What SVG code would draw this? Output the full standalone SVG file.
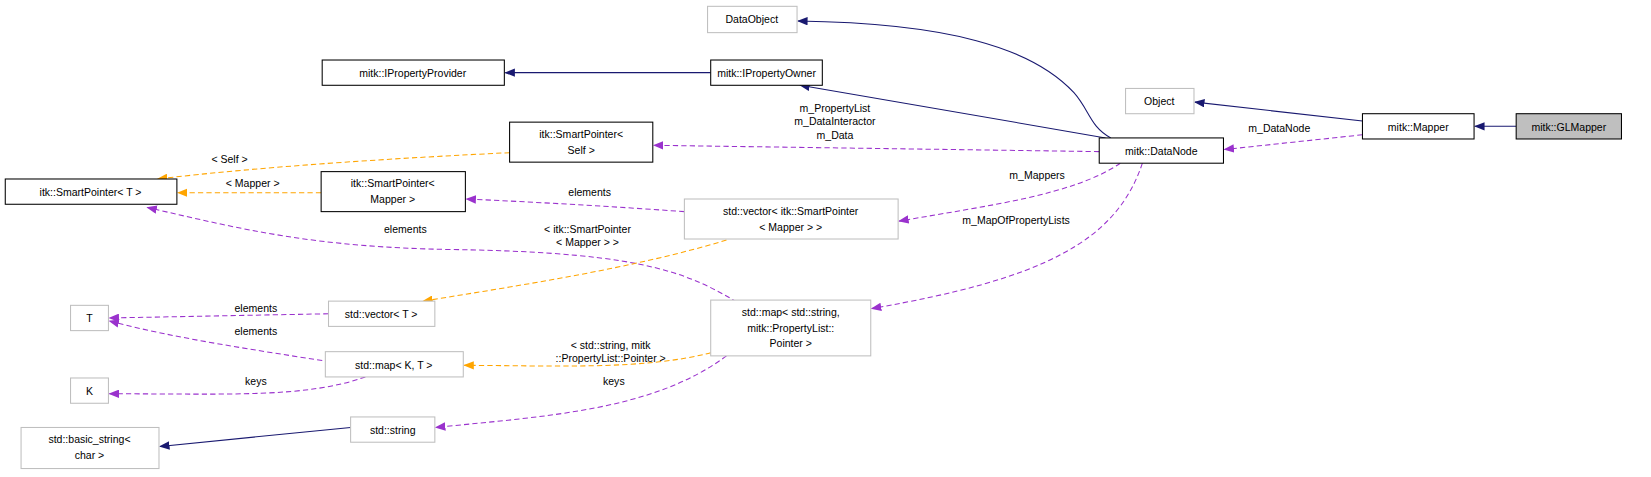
<svg xmlns="http://www.w3.org/2000/svg" width="1651" height="477" viewBox="0 0 1651 477">
<style>
text{font-family:"Liberation Sans","DejaVu Sans",sans-serif;font-size:10px;fill:#000}
.n rect{fill:#fff;stroke:#000;stroke-width:1}
.g rect{fill:#fff;stroke:#bfbfbf;stroke-width:1}
.c{fill:none;stroke-width:1}
.nv{stroke:#191970}
.pu{stroke:#9a32cd;stroke-dasharray:5,3}
.or{stroke:#ffa500;stroke-dasharray:5,3}
</style>
<defs>
<marker id="an" markerWidth="10" markerHeight="8" refX="9" refY="4" orient="auto" markerUnits="userSpaceOnUse"><path d="M0,0L10,4L0,8z" fill="#191970"/></marker>
<marker id="ap" markerWidth="10" markerHeight="8" refX="9" refY="4" orient="auto" markerUnits="userSpaceOnUse"><path d="M0,0L10,4L0,8z" fill="#9a32cd"/></marker>
<marker id="ao" markerWidth="10" markerHeight="8" refX="9" refY="4" orient="auto" markerUnits="userSpaceOnUse"><path d="M0,0L10,4L0,8z" fill="#ffa500"/></marker>
</defs>
<g transform="scale(1.0529)">
<g id="connectors" text-anchor="middle">
<path class="c nv" d="M1440,120L1401,120" marker-end="url(#an)"/>
<path class="c nv" d="M1294,115L1135,97" marker-end="url(#an)"/>
<path class="c pu" d="M1294,128L1163,142" marker-end="url(#ap)"/>
<text x="1215" y="125">m_DataNode</text>
<path class="c nv" d="M1055,131C1035,120 1035,105 1020,88C980,45 900,22 758,20" marker-end="url(#an)"/>
<path class="c nv" d="M1050,131L760,81" marker-end="url(#an)"/>
<path class="c nv" d="M675,69L480,69" marker-end="url(#an)"/>
<path class="c pu" d="M1044,144L621,138" marker-end="url(#ap)"/>
<text x="793" y="106">m_PropertyList</text><text x="793" y="119">m_DataInteractor</text><text x="793" y="132">m_Data</text>
<path class="c pu" d="M1064,155C1020,185 940,195 854,210" marker-end="url(#ap)"/>
<text x="985" y="170">m_Mappers</text>
<path class="c pu" d="M1085,155C1060,230 990,265 828,293" marker-end="url(#ap)"/>
<text x="965" y="213">m_MapOfPropertyLists</text>
<path class="c or" d="M484,145C380,150 250,158 150,170" marker-end="url(#ao)"/>
<text x="218" y="155">&lt; Self &gt;</text>
<path class="c or" d="M305,183L169,183" marker-end="url(#ao)"/>
<text x="240" y="178">&lt; Mapper &gt;</text>
<path class="c pu" d="M650,201C580,196 510,192 443,189" marker-end="url(#ap)"/>
<text x="560" y="186">elements</text>
<path class="c pu" d="M720,300C660,260 620,240 430,237C300,235 230,218 140,197" marker-end="url(#ap)"/>
<text x="385" y="221">elements</text>
<path class="c or" d="M690,228C600,255 500,270 402,286" marker-end="url(#ao)"/>
<text x="558" y="221">&lt; itk::SmartPointer</text><text x="558" y="234">&lt; Mapper &gt; &gt;</text>
<path class="c pu" d="M312,298L104,302" marker-end="url(#ap)"/>
<text x="243" y="296">elements</text>
<path class="c pu" d="M322,345C240,332 170,322 104,305" marker-end="url(#ap)"/>
<text x="243" y="318">elements</text>
<path class="c pu" d="M347,358C290,378 220,374 104,374" marker-end="url(#ap)"/>
<text x="243" y="366">keys</text>
<path class="c or" d="M675,335C610,352 520,347 441,347" marker-end="url(#ao)"/>
<text x="580" y="331">&lt; std::string, mitk</text><text x="580" y="344">::PropertyList::Pointer &gt;</text>
<path class="c pu" d="M690,338C620,390 520,395 414,406" marker-end="url(#ap)"/>
<text x="583" y="366">keys</text>
<path class="c nv" d="M333,406L152,424" marker-end="url(#an)"/>
</g>
<g text-anchor="middle">
<g id="GLMapper"><rect x="1440" y="108" width="100" height="24" fill="#bfbfbf" stroke="#000"/><text x="1490" y="124">mitk::GLMapper</text></g>
<g id="Mapper" class="n"><rect x="1294" y="108" width="106" height="24"/><text x="1347" y="124">mitk::Mapper</text></g>
<g id="Object" class="g"><rect x="1069" y="84" width="65" height="24"/><text x="1101" y="100">Object</text></g>
<g id="DataObject" class="g"><rect x="672" y="6" width="85" height="25"/><text x="714" y="22">DataObject</text></g>
<g id="IPropertyOwner" class="n"><rect x="675" y="57" width="106" height="24"/><text x="728" y="73">mitk::IPropertyOwner</text></g>
<g id="IPropertyProvider" class="n"><rect x="306" y="57" width="173" height="24"/><text x="392" y="73">mitk::IPropertyProvider</text></g>
<g id="DataNode" class="n"><rect x="1044" y="131" width="118" height="24"/><text x="1103" y="147">mitk::DataNode</text></g>
<g id="SPSelf" class="n"><rect x="484" y="116" width="136" height="38"/><text x="552" y="131">itk::SmartPointer&lt;</text><text x="552" y="146">Self &gt;</text></g>
<g id="SPT" class="n"><rect x="5" y="170" width="163" height="24"/><text x="86" y="186">itk::SmartPointer&lt; T &gt;</text></g>
<g id="SPMapper" class="n"><rect x="305" y="163" width="137" height="38"/><text x="373" y="178">itk::SmartPointer&lt;</text><text x="373" y="193">Mapper &gt;</text></g>
<g id="vecSP" class="g"><rect x="650" y="189" width="203" height="38"/><text x="751" y="204">std::vector&lt; itk::SmartPointer</text><text x="751" y="219">&lt; Mapper &gt; &gt;</text></g>
<g id="vecT" class="g"><rect x="312" y="286" width="101" height="24"/><text x="362" y="302">std::vector&lt; T &gt;</text></g>
<g id="T" class="g"><rect x="67" y="290" width="36" height="24"/><text x="85" y="306">T</text></g>
<g id="mapKT" class="g"><rect x="309" y="334" width="131" height="24"/><text x="374" y="350">std::map&lt; K, T &gt;</text></g>
<g id="K" class="g"><rect x="67" y="359" width="36" height="24"/><text x="85" y="375">K</text></g>
<g id="mapStr" class="g"><rect x="675" y="285" width="152" height="53"/><text x="751" y="300">std::map&lt; std::string,</text><text x="751" y="315">mitk::PropertyList::</text><text x="751" y="330">Pointer &gt;</text></g>
<g id="string" class="g"><rect x="333" y="396" width="80" height="24"/><text x="373" y="412">std::string</text></g>
<g id="basicstring" class="g"><rect x="20" y="406" width="131" height="39"/><text x="85" y="421">std::basic_string&lt;</text><text x="85" y="436">char &gt;</text></g>
</g>
</g>
</svg>
